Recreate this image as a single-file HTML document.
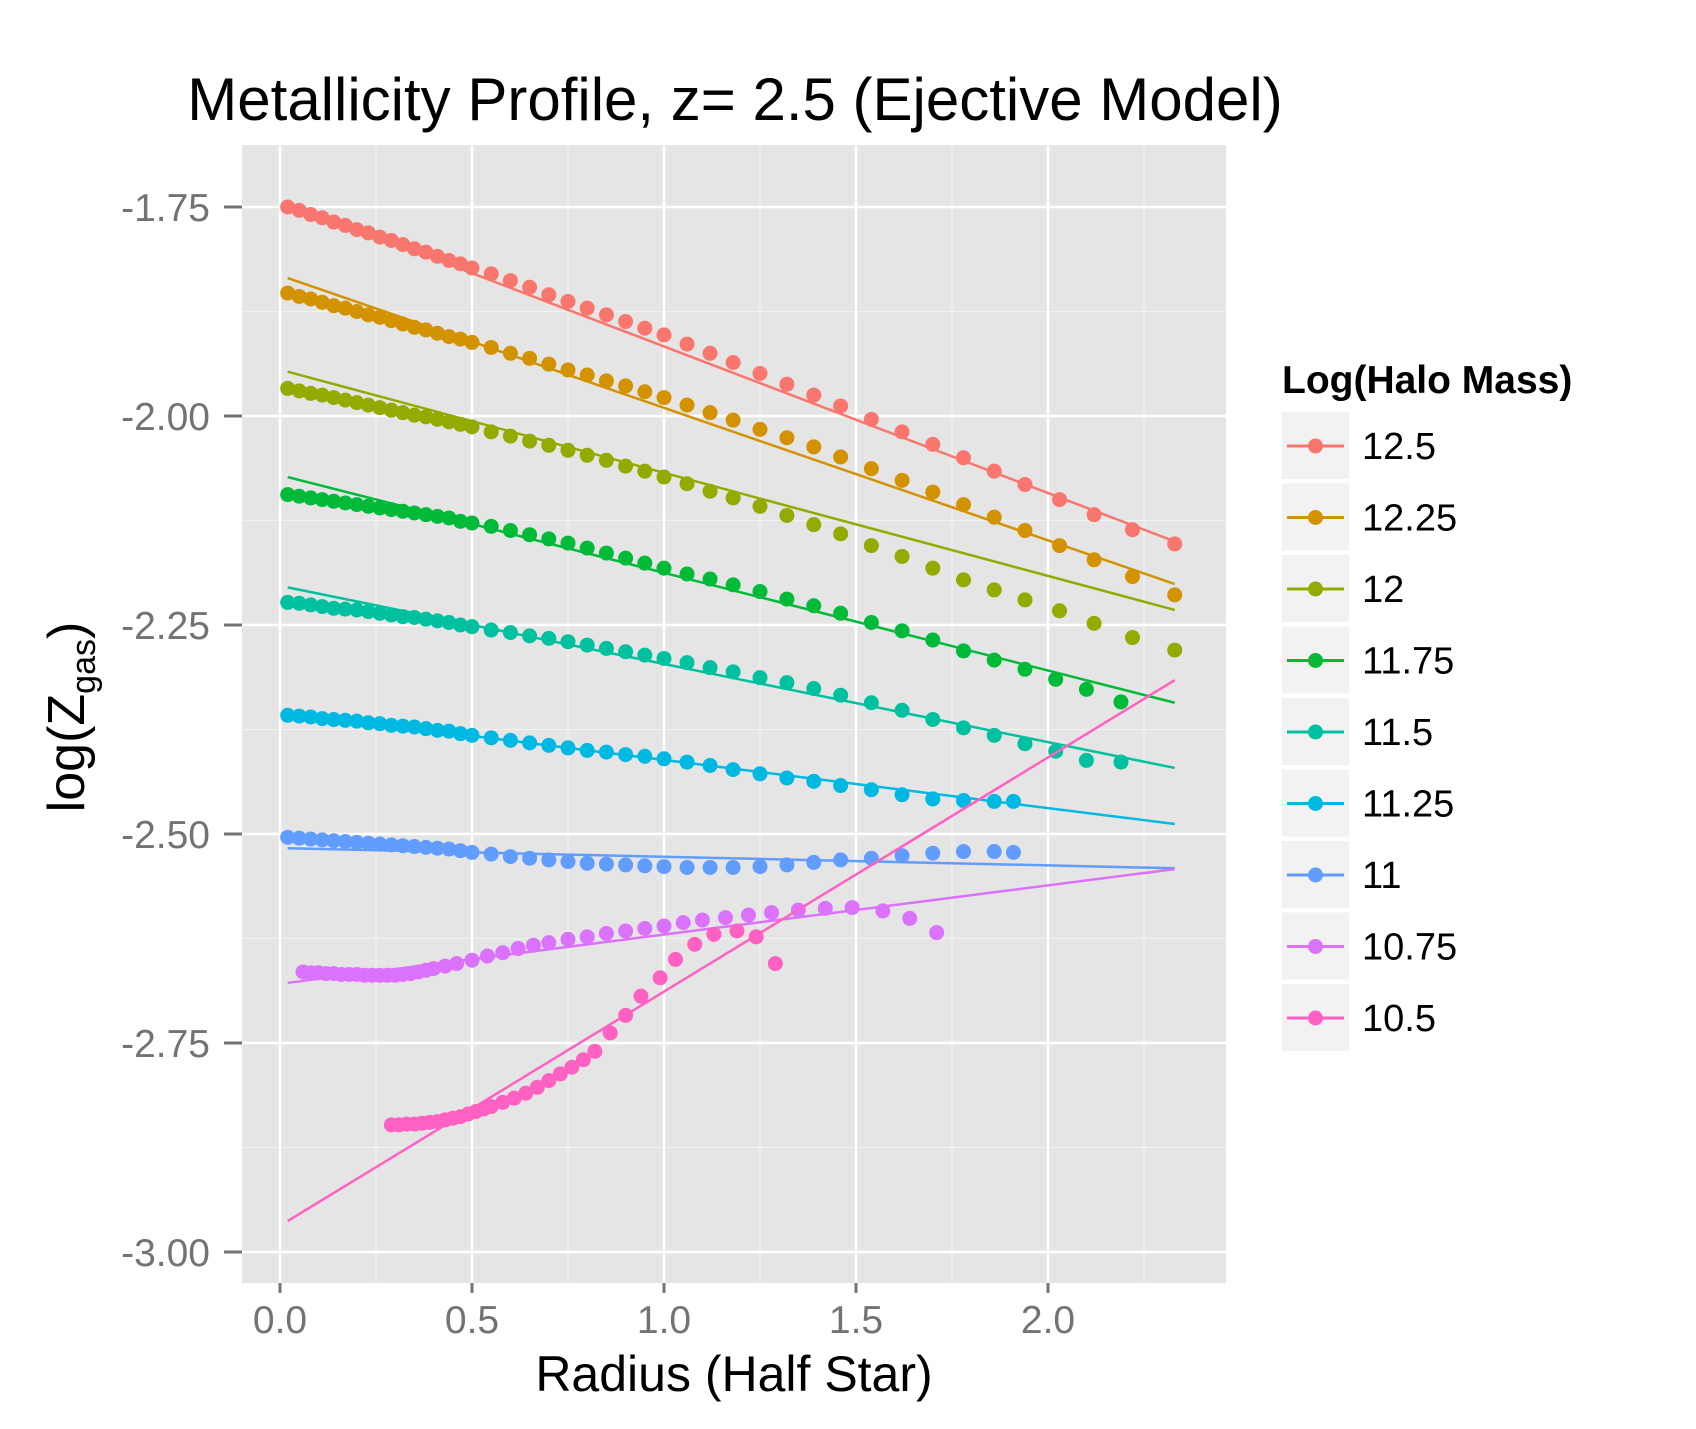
<!DOCTYPE html>
<html><head><meta charset="utf-8"><style>
body{margin:0;background:#fff;}
svg{display:block;font-family:"Liberation Sans",Arial,sans-serif;}
</style></head><body>
<svg id="chart" width="1696" height="1429" xmlns="http://www.w3.org/2000/svg"></svg>
<script>
const seriesNames=["12.5","12.25","12","11.75","11.5","11.25","11","10.75","10.5"];
const seriesColors=["#F8766D","#D39200","#93AA00","#00BA38","#00C19F","#00B9E3","#619CFF","#DB72FB","#FF61C3"];
const xTicks=[0,0.5,1,1.5,2];
const xTickLabels=["0.0","0.5","1.0","1.5","2.0"];
const yTicks=[-1.75,-2.0,-2.25,-2.5,-2.75,-3.0];
const yTickLabels=["-1.75","-2.00","-2.25","-2.50","-2.75","-3.00"];
const xInner=[0.02,0.05,0.08,0.11,0.14,0.17,0.2,0.23,0.26,0.29,0.32,0.35,0.38,0.41,0.44,0.47,0.5,0.55,0.6,0.65,0.7,0.75,0.8,0.85,0.9,0.95,1.0];
const xTailA=[1.06,1.12,1.18,1.25,1.32,1.39,1.46,1.54,1.62,1.7,1.78,1.86,1.94,2.03,2.12,2.22,2.33];
const xTailB=[1.06,1.12,1.18,1.25,1.32,1.39,1.46,1.54,1.62,1.7,1.78,1.86,1.94,2.02,2.1,2.19];
const xTailC=[1.06,1.12,1.18,1.25,1.32,1.39,1.46,1.54,1.62,1.7,1.78,1.86,1.91];
const y125=[-1.750,-1.754,-1.759,-1.763,-1.768,-1.772,-1.777,-1.781,-1.786,-1.790,-1.795,-1.800,-1.804,-1.809,-1.814,-1.818,-1.823,-1.830,-1.838,-1.846,-1.855,-1.863,-1.871,-1.879,-1.887,-1.895,-1.903,
 -1.914,-1.925,-1.936,-1.949,-1.962,-1.975,-1.988,-2.004,-2.019,-2.034,-2.050,-2.066,-2.082,-2.100,-2.118,-2.136,-2.153];
const y1225=[-1.853,-1.857,-1.860,-1.864,-1.868,-1.871,-1.875,-1.879,-1.882,-1.886,-1.890,-1.894,-1.897,-1.901,-1.905,-1.908,-1.912,-1.918,-1.925,-1.931,-1.938,-1.945,-1.951,-1.958,-1.964,-1.971,-1.978,
 -1.987,-1.996,-2.005,-2.016,-2.026,-2.037,-2.049,-2.063,-2.077,-2.091,-2.106,-2.121,-2.137,-2.155,-2.172,-2.192,-2.214];
const y12=[-1.967,-1.970,-1.973,-1.975,-1.978,-1.981,-1.984,-1.987,-1.990,-1.993,-1.996,-1.999,-2.001,-2.004,-2.007,-2.010,-2.013,-2.019,-2.024,-2.030,-2.035,-2.041,-2.047,-2.053,-2.060,-2.066,-2.073,
 -2.081,-2.090,-2.098,-2.108,-2.119,-2.130,-2.141,-2.155,-2.168,-2.182,-2.196,-2.208,-2.220,-2.233,-2.248,-2.265,-2.280];
const y1175=[-2.094,-2.096,-2.098,-2.100,-2.102,-2.104,-2.106,-2.108,-2.110,-2.112,-2.114,-2.116,-2.118,-2.120,-2.122,-2.126,-2.128,-2.132,-2.137,-2.142,-2.147,-2.152,-2.158,-2.164,-2.170,-2.176,-2.182,
 -2.189,-2.195,-2.202,-2.210,-2.219,-2.227,-2.236,-2.247,-2.257,-2.268,-2.281,-2.292,-2.303,-2.315,-2.327,-2.342];
const y115=[-2.223,-2.224,-2.226,-2.228,-2.230,-2.231,-2.232,-2.234,-2.236,-2.238,-2.240,-2.241,-2.243,-2.245,-2.247,-2.250,-2.252,-2.256,-2.259,-2.263,-2.266,-2.270,-2.274,-2.278,-2.282,-2.286,-2.290,
 -2.295,-2.301,-2.306,-2.313,-2.319,-2.326,-2.334,-2.343,-2.352,-2.363,-2.373,-2.382,-2.392,-2.401,-2.412,-2.414];
const y1125=[-2.358,-2.359,-2.360,-2.362,-2.363,-2.364,-2.365,-2.367,-2.368,-2.370,-2.371,-2.372,-2.374,-2.376,-2.377,-2.380,-2.382,-2.385,-2.388,-2.391,-2.394,-2.397,-2.400,-2.402,-2.405,-2.407,-2.410,
 -2.414,-2.418,-2.423,-2.428,-2.433,-2.437,-2.442,-2.447,-2.453,-2.458,-2.460,-2.461,-2.461];
const y11=[-2.504,-2.505,-2.506,-2.507,-2.508,-2.509,-2.510,-2.511,-2.512,-2.513,-2.514,-2.515,-2.516,-2.517,-2.518,-2.520,-2.522,-2.524,-2.527,-2.529,-2.531,-2.533,-2.535,-2.536,-2.537,-2.538,-2.539,
 -2.540,-2.540,-2.540,-2.539,-2.537,-2.534,-2.531,-2.529,-2.526,-2.523,-2.521,-2.521,-2.522];
const x1075=[0.06,0.08,0.1,0.12,0.14,0.16,0.18,0.2,0.22,0.24,0.26,0.28,0.3,0.32,0.34,0.36,0.38,0.4,0.43,0.46,0.5,0.54,0.58,0.62,0.66,0.7,0.75,0.8,0.85,0.9,0.95,1.0,1.05,1.1,1.16,1.22,1.28,1.35,1.42,1.49,1.57,1.64,1.71];
const y1075=[-2.665,-2.666,-2.666,-2.667,-2.667,-2.668,-2.668,-2.668,-2.669,-2.669,-2.669,-2.669,-2.669,-2.668,-2.667,-2.665,-2.663,-2.661,-2.658,-2.655,-2.651,-2.646,-2.642,-2.637,-2.633,-2.630,-2.626,-2.623,-2.619,-2.616,-2.613,-2.610,-2.606,-2.603,-2.600,-2.597,-2.594,-2.591,-2.589,-2.588,-2.592,-2.601,-2.618];
const x105=[0.29,0.31,0.33,0.35,0.37,0.39,0.41,0.43,0.45,0.47,0.49,0.51,0.53,0.55,0.58,0.61,0.64,0.67,0.7,0.73,0.76,0.79,0.82,0.86,0.9,0.94,0.99,1.03,1.08,1.13,1.19,1.24,1.29];
const y105=[-2.848,-2.848,-2.847,-2.847,-2.846,-2.845,-2.844,-2.842,-2.840,-2.838,-2.835,-2.832,-2.829,-2.826,-2.821,-2.816,-2.810,-2.803,-2.795,-2.787,-2.779,-2.770,-2.760,-2.738,-2.717,-2.694,-2.672,-2.650,-2.632,-2.620,-2.616,-2.623,-2.655];
const fitX0=[0.02,0.02,0.02,0.02,0.02,0.02,0.02,0.02,0.02];
const fitY0=[-1.745,-1.835,-1.947,-2.073,-2.205,-2.355,-2.517,-2.678,-2.963];
const fitX1=[2.33,2.33,2.33,2.33,2.33,2.33,2.33,2.33,2.33];
const fitY1=[-2.150,-2.201,-2.232,-2.343,-2.421,-2.488,-2.541,-2.542,-2.316];
const seriesX=[xInner.concat(xTailA),xInner.concat(xTailA),xInner.concat(xTailA),xInner.concat(xTailB),xInner.concat(xTailB),xInner.concat(xTailC),xInner.concat(xTailC),x1075,x105];
const seriesY=[y125,y1225,y12,y1175,y115,y1125,y11,y1075,y105];

const P={l:242,t:145,r:1226,b:1283};
const X=v=>280+v*384;
const Y=v=>207+(-1.75-v)*836;
const svg=document.getElementById('chart');
const NS="http://www.w3.org/2000/svg";
function mk(tag,attrs,parent){const e=document.createElementNS(NS,tag);for(const k in attrs)e.setAttribute(k,attrs[k]);(parent||svg).appendChild(e);return e;}

const bg=mk('rect',{x:P.l,y:P.t,width:P.r-P.l,height:P.b-P.t,fill:'#E5E5E5'});


for(let i=0;i<xTicks.length;i++){const v=xTicks[i]+0.25;const g=mk('line',{x1:X(v),x2:X(v),y1:P.t,y2:P.b,stroke:'#F2F2F2','stroke-width':1.2});

}
for(let i=0;i<yTicks.length-1;i++){const v=yTicks[i]-0.125;const g=mk('line',{x1:P.l,x2:P.r,y1:Y(v),y2:Y(v),stroke:'#F2F2F2','stroke-width':1.2});

}
xTicks.forEach((v,i)=>{const g=mk('line',{x1:X(v),x2:X(v),y1:P.t,y2:P.b,stroke:'#fff','stroke-width':2.5});


const tk=mk('line',{x1:X(v),x2:X(v),y1:P.b,y2:P.b+10,stroke:'#737373','stroke-width':3});


const t=mk('text',{x:X(v),y:1333,'text-anchor':'middle','font-size':39,fill:'#737373'});t.textContent=xTickLabels[i];

});
yTicks.forEach((v,i)=>{const g=mk('line',{x1:P.l,x2:P.r,y1:Y(v),y2:Y(v),stroke:'#fff','stroke-width':2.5});


const tk=mk('line',{x1:P.l-18,x2:P.l,y1:Y(v),y2:Y(v),stroke:'#737373','stroke-width':3});


const t=mk('text',{x:210,y:Y(v)+14,'text-anchor':'end','font-size':39,fill:'#737373'});t.textContent=yTickLabels[i];

});
for(let s=0;s<seriesNames.length;s++){
  const c=seriesColors[s];
  const ln=mk('line',{x1:X(fitX0[s]),y1:Y(fitY0[s]),x2:X(fitX1[s]),y2:Y(fitY1[s]),stroke:c,'stroke-width':2.5});
  
  
  for(let i=0;i<seriesX[s].length;i++){
    const p=mk('circle',{cx:X(seriesX[s][i]),cy:Y(seriesY[s][i]),r:7.5,fill:c});
    
    
  }
}
const lt=mk('text',{x:1282,y:393,'font-size':39,'font-weight':'bold',fill:'#000'});lt.textContent='Log(Halo Mass)';


seriesNames.forEach((n,i)=>{
  const top=412+i*71.5;
  const g=mk('g',{});
  
  
  mk('rect',{x:1282,y:top,width:67,height:67,fill:'#F2F2F2'},g);
  mk('line',{x1:1287,x2:1344,y1:top+34,y2:top+34,stroke:seriesColors[i],'stroke-width':3},g);
  mk('circle',{cx:1315.5,cy:top+34,r:7.5,fill:seriesColors[i]},g);
  const t=mk('text',{x:1362,y:top+47,'font-size':38,fill:'#000'},g);t.textContent=n;
});
const tt=mk('text',{x:735,y:120,'text-anchor':'middle','font-size':60,fill:'#000'});tt.textContent='Metallicity Profile, z= 2.5 (Ejective Model)';


const xt=mk('text',{x:734,y:1391,'text-anchor':'middle','font-size':50,fill:'#000'});xt.textContent='Radius (Half Star)';


const yt=mk('text',{x:0,y:0,'text-anchor':'middle','font-size':52,fill:'#000',transform:'translate(84,717) rotate(-90)'});
yt.innerHTML='log(Z<tspan font-size="34" dy="11">gas</tspan><tspan dy="-11">)</tspan>';


</script>
</body></html>
